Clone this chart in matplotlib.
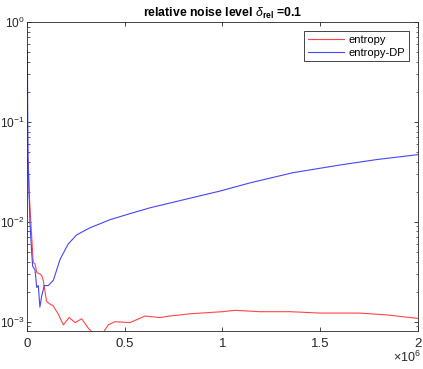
import matplotlib
matplotlib.use('Agg')
import matplotlib.pyplot as plt
from matplotlib.ticker import FuncFormatter, LogLocator, NullFormatter
import numpy as np

# ── DATA (iterations, relative error) ──
entropy_x = [0, 0.0066e6, 0.012e6, 0.032e6, 0.041e6, 0.05e6, 0.066e6, 0.075e6, 0.083e6,
             0.10e6, 0.118e6, 0.133e6, 0.159e6, 0.186e6, 0.216e6, 0.246e6, 0.28e6,
             0.314e6, 0.335e6, 0.39e6, 0.416e6, 0.45e6, 0.527e6, 0.604e6, 0.68e6,
             0.731e6, 0.834e6, 1.0e6, 1.064e6, 1.19e6, 1.345e6, 1.5e6, 1.70e6,
             1.84e6, 2.0e6]
entropy_y = [0.042, 0.04, 0.018, 0.0039, 0.0038, 0.0031, 0.0030, 0.0029, 0.0026,
             0.0016, 0.0015, 0.00145, 0.0012, 0.00093, 0.0011, 0.00098, 0.00107,
             0.00086, 0.00078, 0.00078, 0.00093, 0.0010, 0.00098, 0.00114, 0.0011,
             0.00114, 0.0012, 0.00126, 0.0013, 0.00126, 0.00126, 0.00122, 0.00122,
             0.00117, 0.00108]

dp_x = [0.002e6, 0.004e6, 0.0066e6, 0.015e6, 0.024e6, 0.029e6, 0.041e6, 0.05e6, 0.058e6,
        0.066e6, 0.075e6, 0.088e6, 0.109e6, 0.135e6, 0.169e6, 0.211e6, 0.254e6,
        0.322e6, 0.425e6, 0.51e6, 0.629e6, 0.766e6, 0.885e6, 0.987e6, 1.14e6,
        1.36e6, 1.60e6, 1.79e6, 2.0e6]
dp_y = [0.52, 0.1, 0.035, 0.01, 0.0049, 0.0036, 0.0033, 0.0022, 0.0023,
        0.0014, 0.0018, 0.0023, 0.0023, 0.0026, 0.0042, 0.006, 0.0074,
        0.0087, 0.0105, 0.0118, 0.0138, 0.016, 0.0182, 0.0203, 0.0245,
        0.031, 0.037, 0.042, 0.047]

plt.rcParams.update({
    'font.family': 'Liberation Sans',
    'mathtext.fontset': 'custom',
    'mathtext.rm': 'Liberation Sans',
    'mathtext.it': 'Liberation Sans:italic',
    'mathtext.bf': 'Liberation Sans:bold',
    'xtick.direction': 'in',
    'ytick.direction': 'in',
    'xtick.top': True,
    'ytick.right': True,
})

fig = plt.figure(figsize=(4.23, 3.69), dpi=100)
ax = fig.add_axes([0.0638, 0.1038, 0.9242, 0.8366])

ax.plot(entropy_x, entropy_y, color='#ff4545', lw=0.8, label='entropy')
ax.plot(dp_x, dp_y, color='#4545ff', lw=0.8, label='entropy-DP')

ax.set_yscale('log')
ax.set_xlim(0, 2e6)
ax.set_ylim(10 ** -3.09, 1)
ax.set_xticks([0, 0.5e6, 1e6, 1.5e6, 2e6])
ax.xaxis.set_major_formatter(FuncFormatter(lambda v, p: f'{v / 1e6:g}'))

ax.yaxis.set_major_locator(LogLocator(base=10, numticks=10))
ax.yaxis.set_minor_locator(LogLocator(base=10, subs=np.arange(2, 10), numticks=20))
ax.yaxis.set_minor_formatter(NullFormatter())

ax.tick_params(which='major', length=3, width=0.6, colors='#262626', labelsize=9.5)
ax.tick_params(axis='x', pad=5)
ax.tick_params(axis='y', labelsize=8.6, pad=1.5)
ax.tick_params(which='minor', length=1.8, width=0.5, colors='#262626')
for s in ax.spines.values():
    s.set_color('#262626')
    s.set_linewidth(0.6)

# exponent label for x axis
fig.text(0.995, 0.032, r'$\times 10^{6}$', ha='right', va='center',
         fontsize=9, color='#262626')

ax.set_title(r'relative noise level $\delta_{\mathbf{rel}}$ =0.1',
             fontsize=8.8, fontweight='bold', pad=4)

leg = ax.legend(loc='upper right', fontsize=8, fancybox=False, framealpha=1,
                edgecolor='#262626', borderaxespad=0.8, handlelength=3.2,
                handletextpad=0.45, borderpad=0.35, labelspacing=0.25)
leg.get_frame().set_linewidth(0.6)

fig.savefig('out.png', dpi=100)
